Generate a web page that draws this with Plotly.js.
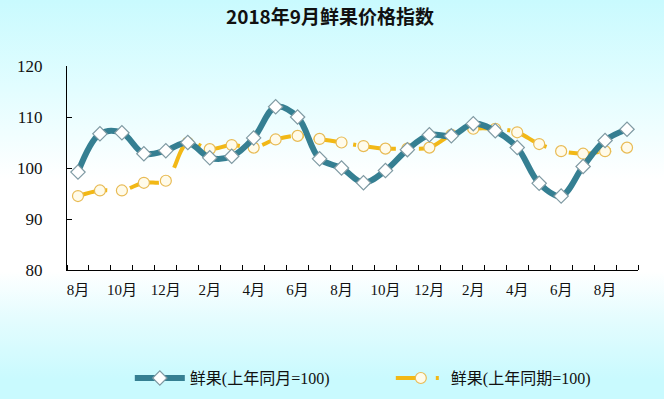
<!DOCTYPE html>
<html>
<head>
<meta charset="utf-8">
<script src="https://cdn.plot.ly/plotly-3.0.1.min.js"></script>
<style>
  html, body { margin: 0; padding: 0; }
  body { width: 664px; height: 399px; overflow: hidden;
    background: linear-gradient(to bottom, #c9fafe 0%, #e2fdff 22%, #ffffff 45%, #ffffff 68%, #e4fcfe 80%, #c9fafe 95%); }
  #chart { width: 664px; height: 399px; }
</style>
</head>
<body>
<div id="chart"></div>
<script>
// Months from 2016-08 to 2018-09
const months = ["2016-08","2016-09","2016-10","2016-11","2016-12","2017-01","2017-02","2017-03","2017-04","2017-05","2017-06","2017-07","2017-08","2017-09","2017-10","2017-11","2017-12","2018-01","2018-02","2018-03","2018-04","2018-05","2018-06","2018-07","2018-08","2018-09"];
const tickLabels = ["8月","10月","12月","2月","4月","6月","8月","10月","12月","2月","4月","6月","8月"];
const seriesNames = ["鲜果(上年同月=100)", "鲜果(上年同期=100)"];
const yoyMonth = [99.2,106.7,106.9,102.8,103.4,105.0,102.0,102.3,105.9,112.0,110.0,101.8,100.0,97.1,99.5,103.6,106.5,106.3,108.7,107.3,104.0,97.0,94.5,100.3,105.4,107.6];
const yoyCumulative = [94.5,95.6,95.6,97.1,97.5,105.0,103.7,104.5,104.0,105.6,106.3,105.7,105.0,104.3,103.8,103.8,104.0,106.5,107.7,107.7,107.0,104.7,103.3,102.8,103.3,104.0];

const xIdx = months.map((m, i) => i);
const tickIdx = tickLabels.map((t, i) => i * 2);

const serifFont = "'Liberation Serif', 'Noto Sans CJK SC', serif";

const traces = [
  {
    x: xIdx, y: yoyCumulative, name: seriesNames[1], type: "scatter", mode: "lines+markers",
    line: { color: "#f2b816", width: 4, shape: "spline", smoothing: 1, dash: "30px,10px,3px,10px" },
    marker: { symbol: "circle", size: 11, color: "#fffbea", line: { color: "#e8bb55", width: 1.2 } }
  },
  {
    x: xIdx, y: yoyMonth, name: seriesNames[0], type: "scatter", mode: "lines+markers",
    line: { color: "#357f92", width: 6, shape: "spline", smoothing: 1 },
    marker: { symbol: "diamond", size: 11, color: "#ffffff", line: { color: "#7f9aa3", width: 1.2 } }
  }
];

const layout = {
  width: 664, height: 399,
  paper_bgcolor: "rgba(0,0,0,0)", plot_bgcolor: "rgba(0,0,0,0)",
  margin: { l: 67, r: 26, t: 66, b: 129, autoexpand: false },
  title: { text: "<b>2018年9月鲜果价格指数</b>", x: 0.497, xref: "container", xanchor: "center",
           y: 0.957, yref: "container", yanchor: "middle",
           font: { family: "'Noto Sans CJK SC', sans-serif", size: 19, color: "#111" } },
  showlegend: true,
  legend: { orientation: "h", x: 0.11, xanchor: "left", y: -0.53, yanchor: "middle",
            traceorder: "reversed", entrywidth: 196, itemwidth: 50,
            font: { family: serifFont, size: 16, color: "#111" },
            bgcolor: "rgba(0,0,0,0)" },
  xaxis: {
    range: [-0.5, 25.5], showgrid: false, zeroline: false,
    showline: true, linecolor: "#000", linewidth: 1,
    tickmode: "array", tickvals: tickIdx, ticktext: tickLabels, ticks: "",
    ticklabelstandoff: 6,
    tickfont: { family: serifFont, size: 15, color: "#111" },
    minor: { tickmode: "linear", tick0: -0.5, dtick: 1, ticks: "inside", ticklen: 5, tickcolor: "#000", tickwidth: 1, showgrid: false }
  },
  yaxis: {
    range: [80, 120], dtick: 10, tick0: 80, showgrid: false, zeroline: false,
    showline: true, linecolor: "#000", linewidth: 1,
    ticks: "inside", ticklen: 5, tickcolor: "#000",
    ticklabelstandoff: 20,
    tickfont: { family: serifFont, size: 17, color: "#111" }
  }
};

Plotly.newPlot("chart", traces, layout, { displayModeBar: false, staticPlot: true });
</script>
</body>
</html>
